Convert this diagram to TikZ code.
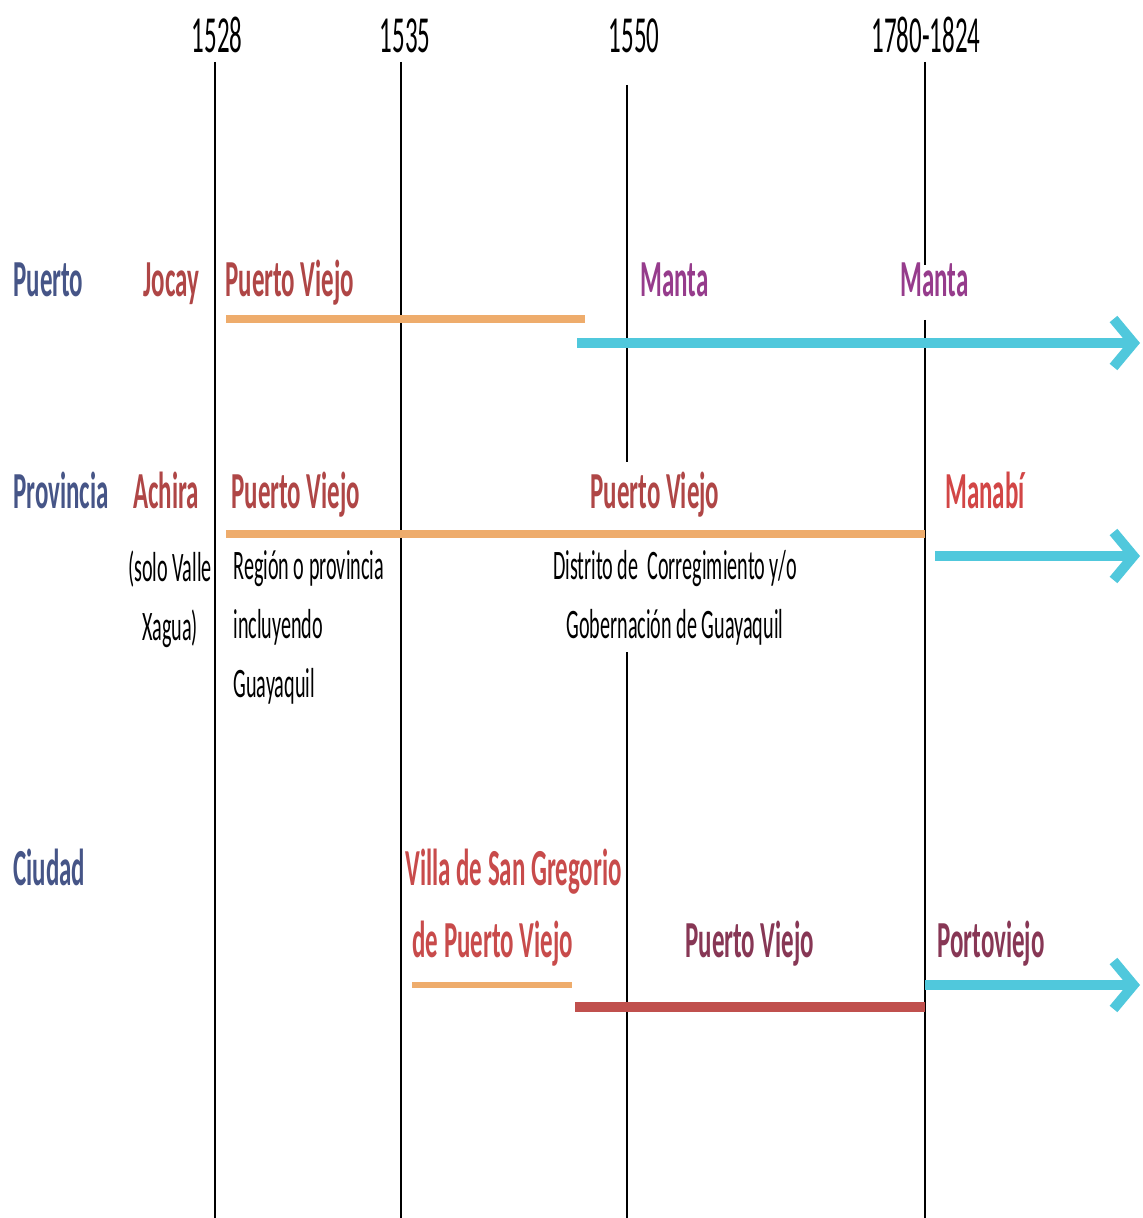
\documentclass[tikz,border=0pt]{standalone}
\usepackage{fontspec}
\setmainfont{Carlito}[FakeStretch=0.48]
\usetikzlibrary{arrows.meta}
\definecolor{RowBlue}{RGB}{70,85,135}
\definecolor{Brick}{RGB}{175,70,70}
\definecolor{Plum}{RGB}{150,60,140}
\definecolor{Scarlet}{RGB}{210,70,70}
\definecolor{Rose}{RGB}{200,75,75}
\definecolor{Wine}{RGB}{135,55,85}
\definecolor{Peach}{RGB}{238,172,108}
\definecolor{Aqua}{RGB}{80,200,220}
\definecolor{RedBar}{RGB}{192,80,77}

\begin{document}
\begin{tikzpicture}[x=0.5pt, y=-0.5pt,
    year/.style={font=\fontsize{26}{30}\selectfont, anchor=base, inner sep=0},
    rowname/.style={text=RowBlue, font=\fontsize{26}{30}\selectfont\bfseries, anchor=base west, inner sep=0},
    place/.style={font=\fontsize{26}{36}\selectfont\bfseries, anchor=base west, inner sep=0},
    note/.style={font=\fontsize{21}{29.5}\selectfont, inner sep=0},
    timeline/.style={line width=0.8pt},
    bar/.style={line width=4pt},
    span/.style={draw=Aqua, line width=5pt, -{Straight Barb[length=10pt, width=24pt]}}]
    \useasboundingbox (0,0) rectangle (1143,1218);

    % Years
    \node[year] (y1528) at (217,53) {1528};
    \node[year] (y1535) at (405,53) {1535};
    \node[year] (y1550) at (634,53) {1550};
    \node[year] (y1780) at (926,53) {1780-1824};

    % Time lines
    \draw[timeline] (215,62) -- (215,1218);
    \draw[timeline] (401,62) -- (401,1218);
    \draw[timeline] (627,85) -- (627,462);
    \draw[timeline] (627,652) -- (627,1218);
    \draw[timeline] (925,62) -- (925,265);
    \draw[timeline] (925,320) -- (925,1218);

    % Row names
    \node[rowname] (puerto) at (13,297) {Puerto};
    \node[rowname] (provincia) at (13,509) {Provincia};
    \node[rowname] (ciudad) at (13,885) {Ciudad};

    % Puerto
    \node[place, text=Brick] (jocay) at (143,297) {Jocay};
    \node[place, text=Brick] (pviejo1) at (225,297) {Puerto Viejo};
    \node[place, text=Plum] (manta1) at (640,297) {Manta};
    \node[place, text=Plum] (manta2) at (900,297) {Manta};
    \draw[bar, Peach] (226,319) -- (585,319);
    \draw[span] (577,343) -- (1140,343);

    % Provincia
    \node[place, text=Brick] (achira) at (133,509) {Achira};
    \node[place, text=Brick] (pviejo2) at (231,509) {Puerto Viejo};
    \node[place, text=Brick, anchor=base] (pviejo3) at (655,509) {Puerto Viejo};
    \node[place, text=Scarlet] (manabi) at (945,509) {Manabí};
    \node[note, align=center, anchor=north] (valle) at (170,550) {(solo Valle\\Xagua)};
    \node[note, align=left, anchor=north west] (region) at (233,550) {Región o provincia\\incluyendo\\Guayaquil};
    \node[note, align=center, anchor=north] (distrito) at (675,550) {Distrito de\ \ Corregimiento y/o\\Gobernación de Guayaquil};
    \draw[bar, Peach] (226,534) -- (925,534);
    \draw[span] (935,556) -- (1140,556);

    % Ciudad
    \node[place, text=Rose, align=left] (villa) at (405,957) {Villa de San Gregorio\\\hspace{3.5pt}de Puerto Viejo};
    \node[place, text=Wine] (pviejo4) at (685,957) {Puerto Viejo};
    \node[place, text=Wine] (porto) at (937,957) {Portoviejo};
    \draw[line width=3pt, Peach] (412,985) -- (572,985);
    \draw[line width=5pt, RedBar] (575,1007) -- (925,1007);
    \draw[span] (925,985) -- (1140,985);
\end{tikzpicture}
\end{document}
